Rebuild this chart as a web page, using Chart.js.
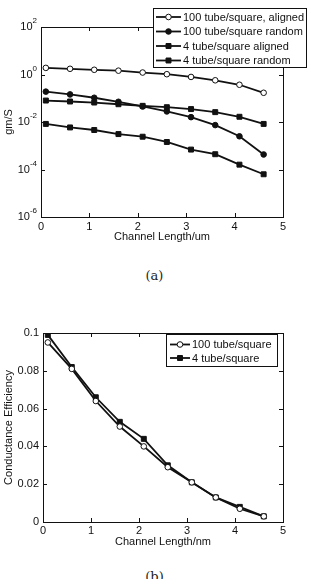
<!DOCTYPE html>
<html>
<head>
<meta charset="utf-8">
<title>Channel length figures</title>
<script src="https://cdn.jsdelivr.net/npm/chart.js@4.4.1/dist/chart.umd.min.js"></script>
<style>
    html, body { margin: 0; padding: 0; background: #fff; }
    body { width: 309px; height: 579px; position: relative; overflow: hidden; }
    .box { position: absolute; left: 0; width: 309px; }
    #boxA { top: 0; height: 244px; }
    #boxB { top: 300px; height: 249px; }
    .cap {
        position: absolute; left: 0; width: 309px; text-align: center;
        font-family: 'DejaVu Serif', 'Liberation Serif', serif; font-size: 13px; color: #222;
    }
</style>
</head>
<body>
<div id="boxA" class="box"><canvas id="chartA"></canvas></div>
<div class="cap" style="top:268px">(a)</div>
<div id="boxB" class="box"><canvas id="chartB"></canvas></div>
<div class="cap" style="top:569px">(b)</div>

<script>
// Channel lengths (um for (a), nm for (b) - same positions)
const channelLengths = [0.1, 0.6, 1.1, 1.6, 2.1, 2.6, 3.1, 3.6, 4.1, 4.6];

// (a) gm/S, log scale
const aligned100 = [1.9, 1.74, 1.58, 1.45, 1.21, 1.03, 0.79, 0.57, 0.37, 0.17];
const random100 = [0.19, 0.145, 0.105, 0.071, 0.045, 0.028, 0.016, 0.0074, 0.0025, 0.00043];
const aligned4 = [0.080, 0.073, 0.066, 0.056, 0.048, 0.042, 0.035, 0.026, 0.0166, 0.0083];
const random4 = [0.0083, 0.0059, 0.0046, 0.0031, 0.0024, 0.00144, 0.00069, 0.00044, 0.00016, 0.000063];
const logTicks = [1e-6, 1e-4, 1e-2, 1e0, 1e2];

// (b) conductance efficiency
const efficiency100 = [0.095, 0.081, 0.064, 0.0505, 0.040, 0.029, 0.021, 0.013, 0.007, 0.003];
const efficiency4 = [0.099, 0.082, 0.066, 0.053, 0.044, 0.030, 0.021, 0.013, 0.008, 0.003];

const INK = '#111';
const FONT = "'Liberation Sans', Arial, Helvetica, sans-serif";

Chart.defaults.font.family = FONT;
Chart.defaults.font.size = 11;
Chart.defaults.color = INK;

/**
 * Build one line dataset from a value array
 */
function series(label, values, style, filled) {
    return {
        label,
        data: values.map((v, i) => ({ x: channelLengths[i], y: v })),
        borderColor: INK,
        borderWidth: 1.8,
        pointStyle: style,
        pointRadius: style === 'rect' ? 3.5 : 2.8,
        pointBackgroundColor: filled ? INK : '#fff',
        pointBorderColor: INK,
        pointBorderWidth: 1,
        tension: 0,
        fill: false,
    };
}

/**
 * Small marker used in the legend box
 */
function marker(ctx, ds, x, y) {
    ctx.beginPath();
    if (ds.pointStyle === 'rect') {
        const s = ds.pointRadius * Math.SQRT1_2;
        ctx.rect(x - s, y - s, 2 * s, 2 * s);
    } else {
        ctx.arc(x, y, ds.pointRadius, 0, Math.PI * 2);
    }
    ctx.fillStyle = ds.pointBackgroundColor;
    ctx.fill();
    ctx.lineWidth = 1;
    ctx.strokeStyle = INK;
    ctx.stroke();
}

// MATLAB-like box, inward ticks, power labels and boxed legend
const framePlugin = {
    id: 'frame',
    afterDatasetsDraw(chart, args, opts) {
        const { ctx, chartArea: a, scales } = chart;
        ctx.save();
        ctx.strokeStyle = INK;
        ctx.lineWidth = 1;
        ctx.strokeRect(Math.round(a.left) + 0.5, Math.round(a.top) + 0.5,
            Math.round(a.right - a.left), Math.round(a.bottom - a.top));

        ctx.beginPath();
        scales.x.ticks.forEach(t => {
            const px = Math.round(scales.x.getPixelForValue(t.value)) + 0.5;
            ctx.moveTo(px, a.bottom); ctx.lineTo(px, a.bottom - 4);
            ctx.moveTo(px, a.top); ctx.lineTo(px, a.top + 4);
        });
        scales.y.ticks.forEach(t => {
            const py = Math.round(scales.y.getPixelForValue(t.value)) + 0.5;
            ctx.moveTo(a.left, py); ctx.lineTo(a.left + 4, py);
            ctx.moveTo(a.right, py); ctx.lineTo(a.right - 4, py);
        });
        ctx.stroke();

        // 10^n labels
        if (opts.powerLabels) {
            ctx.fillStyle = INK;
            ctx.textBaseline = 'middle';
            scales.y.ticks.forEach(t => {
                const py = scales.y.getPixelForValue(t.value);
                const exp = String(Math.round(Math.log10(t.value)));
                ctx.font = `8px ${FONT}`;
                const ew = ctx.measureText(exp).width;
                const right = a.left - 4;
                ctx.textAlign = 'left';
                ctx.fillText(exp, right - ew, py - 6);
                ctx.font = `11px ${FONT}`;
                ctx.textAlign = 'right';
                ctx.fillText('10', right - ew, py);
            });
        }

        const L = opts.legend;
        if (L) {
            ctx.fillStyle = '#fff';
            ctx.fillRect(L.x, L.y, L.w, L.h);
            ctx.strokeRect(L.x + 0.5, L.y + 0.5, L.w, L.h);
            ctx.font = `11px ${FONT}`;
            ctx.textAlign = 'left';
            ctx.textBaseline = 'middle';
            chart.data.datasets.forEach((ds, i) => {
                const y = L.rows[i];
                ctx.beginPath();
                ctx.lineWidth = 1.8;
                ctx.strokeStyle = INK;
                ctx.moveTo(L.lineX0, y); ctx.lineTo(L.lineX1, y);
                ctx.stroke();
                marker(ctx, ds, (L.lineX0 + L.lineX1) / 2, y);
                ctx.fillStyle = INK;
                ctx.fillText(ds.label, L.textX, y + 0.5);
            });
        }
        ctx.restore();
    }
};

function xScale(title, height, pad) {
    return {
        type: 'linear',
        min: 0,
        max: 5,
        grid: { display: false, drawTicks: false },
        border: { display: false },
        ticks: { stepSize: 1, padding: pad, maxRotation: 0 },
        title: { display: true, text: title, font: { size: 11 }, padding: { top: 0, bottom: 0 } },
        afterFit: (scale) => { scale.height = height; },
    };
}

// (a)
new Chart(document.getElementById('chartA'), {
    type: 'line',
    data: {
        datasets: [
            series('100 tube/square, aligned', aligned100, 'circle', false),
            series('100 tube/square random', random100, 'circle', true),
            series('4 tube/square aligned', aligned4, 'rect', true),
            series('4 tube/square random', random4, 'rect', true),
        ]
    },
    options: {
        responsive: true,
        maintainAspectRatio: false,
        animation: false,
        layout: { padding: { left: 0, top: 27, right: 26, bottom: 0 } },
        plugins: {
            legend: { display: false },
            tooltip: { enabled: false },
            frame: {
                powerLabels: true,
                legend: {
                    x: 153, y: 8, w: 153, h: 59,
                    rows: [17, 31.5, 46, 60.5],
                    lineX0: 156, lineX1: 181, textX: 183,
                }
            }
        },
        scales: {
            x: xScale('Channel Length/um', 27, 3),
            y: {
                type: 'logarithmic',
                min: 1e-6,
                max: 1e2,
                grid: { display: false, drawTicks: false },
                border: { display: false },
                ticks: { display: false },
                afterBuildTicks: (scale) => { scale.ticks = logTicks.map(v => ({ value: v })); },
                title: { display: true, text: 'gm/S', font: { size: 11 }, padding: { top: 2, bottom: 0 } },
                afterFit: (scale) => { scale.width = 41; },
            }
        }
    },
    plugins: [framePlugin]
});

// (b)
new Chart(document.getElementById('chartB'), {
    type: 'line',
    data: {
        datasets: [
            series('100 tube/square', efficiency100, 'circle', false),
            series('4 tube/square', efficiency4, 'rect', true),
        ]
    },
    options: {
        responsive: true,
        maintainAspectRatio: false,
        animation: false,
        layout: { padding: { left: 0, top: 33, right: 26, bottom: 0 } },
        plugins: {
            legend: { display: false },
            tooltip: { enabled: false },
            frame: {
                legend: {
                    x: 166, y: 34, w: 111, h: 32,
                    rows: [44.5, 58],
                    lineX0: 170, lineX1: 190, textX: 192,
                }
            }
        },
        scales: {
            x: xScale('Channel Length/nm', 27, 2),
            y: {
                type: 'linear',
                min: 0,
                max: 0.1,
                grid: { display: false, drawTicks: false },
                border: { display: false },
                ticks: {
                    stepSize: 0.02,
                    padding: 4,
                    callback: (v) => String(Number(v.toFixed(2))),
                },
                title: { display: true, text: 'Conductance Efficiency', font: { size: 11 }, padding: { top: 2, bottom: 0 } },
                afterFit: (scale) => { scale.width = 43; },
            }
        }
    },
    plugins: [framePlugin]
});
</script>
</body>
</html>
